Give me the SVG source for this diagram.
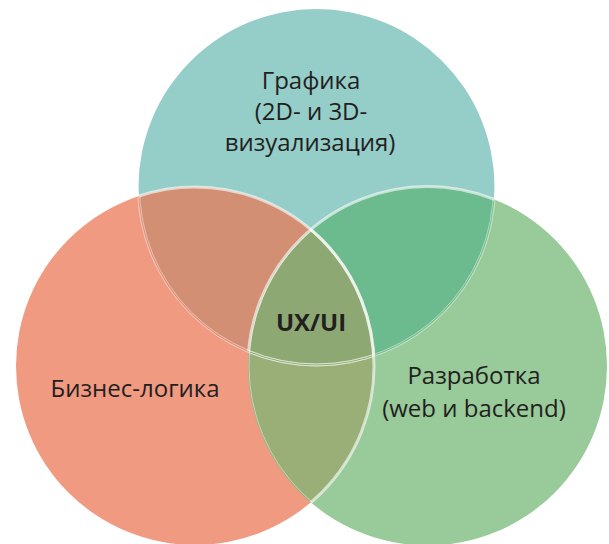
<svg xmlns="http://www.w3.org/2000/svg" width="609" height="544" viewBox="0 0 609 544">
<defs>
<style>
.lbl{font-family:"Open Sans","Noto Sans","Liberation Sans",sans-serif;font-size:24px;fill:#231F20;text-anchor:middle}
.bold{font-weight:bold}
.edge{fill:none;stroke:#FFFFFF;stroke-opacity:0.6;stroke-width:3}
.thin{fill:none;stroke:#FFFFFF;stroke-opacity:0.45;stroke-width:1}
</style>
<clipPath id="cTop"><circle cx="316.5" cy="187" r="178"/></clipPath>
<clipPath id="cLeft"><circle cx="195" cy="366" r="179"/></clipPath>
<clipPath id="cRight"><circle cx="427.5" cy="366" r="179.5"/></clipPath>
</defs>
<rect width="609" height="544" fill="#FFFFFF"/>
<g id="top">
<circle cx="316.5" cy="187" r="178" fill="#95CDC9"/>
</g>
<g id="left">
<circle cx="195" cy="366" r="179" fill="#F19A82"/>
</g>
<g id="right">
<circle cx="427.5" cy="366" r="179.5" fill="#98CA9A"/>
</g>
<g id="overlaps">
<g clip-path="url(#cTop)"><circle cx="195" cy="366" r="179" fill="#D38F74"/></g>
<g clip-path="url(#cTop)"><circle cx="427.5" cy="366" r="179.5" fill="#6CBB8E"/></g>
<g clip-path="url(#cLeft)"><circle cx="427.5" cy="366" r="179.5" fill="#9AAF77"/></g>
<g clip-path="url(#cLeft)"><g clip-path="url(#cRight)"><circle cx="316.5" cy="187" r="178" fill="#8DA872"/></g></g>
</g>
<g id="edges">
<g clip-path="url(#cTop)">
<circle class="edge" cx="195" cy="366" r="179"/>
<circle class="edge" cx="427.5" cy="366" r="179.5"/>
</g>
<g clip-path="url(#cLeft)">
<circle class="thin" cx="316.5" cy="187" r="177"/>
<circle class="thin" cx="316.5" cy="187" r="179"/>
<circle class="thin" cx="427.5" cy="366" r="178.5"/>
</g>
<g clip-path="url(#cRight)">
<circle class="thin" cx="316.5" cy="187" r="177"/>
<circle class="thin" cx="316.5" cy="187" r="179"/>
<circle class="edge" cx="195" cy="366" r="179"/>
</g>
</g>
<g id="labels">
<text class="lbl" x="311" y="89">Графика</text>
<text class="lbl" x="311" y="120">(2D- и 3D-</text>
<text class="lbl" x="310" y="151">визуализация)</text>
<text class="lbl" x="135" y="397">Бизнес-логика</text>
<text class="lbl" x="474" y="384">Разработка</text>
<text class="lbl" x="474" y="417">(web и backend)</text>
<text class="lbl bold" x="311" y="331">UX/UI</text>
</g>
</svg>
